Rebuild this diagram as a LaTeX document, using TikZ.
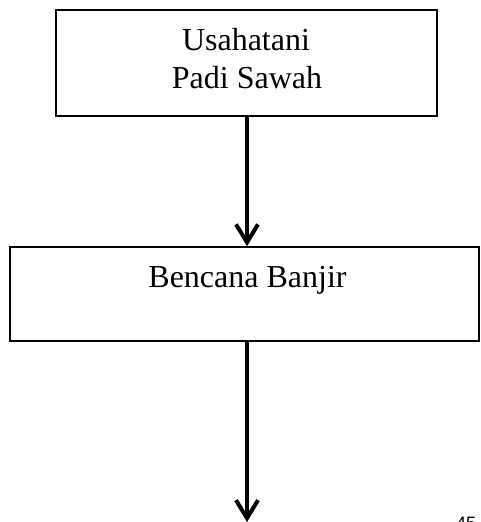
\documentclass[tikz,border=0pt]{standalone}
\usepackage{fontspec}
\setmainfont{Liberation Serif}
\newfontfamily\arialf{Liberation Sans}
\usetikzlibrary{arrows.meta}
\begin{document}
\begin{tikzpicture}[x=1pt,y=-1pt,
  boxst/.style={draw=black, line width=1.6pt, rectangle, inner sep=0pt, fill=white},
  txt/.style={inner sep=0pt, anchor=base, font=\fontsize{32}{38}\selectfont},
  arr/.style={line width=4pt, -{Straight Barb[length=18pt,width=22pt,line width=4pt]}}]
\useasboundingbox (0,0) rectangle (480,522);
\node[boxst, minimum width=381pt, minimum height=106pt] (top) at (246.5,63) {};
\node[txt] (t1) at (246,50) {Usahatani};
\node[txt] (t2) at (247,88) {Padi Sawah};
\node[boxst, minimum width=469pt, minimum height=94pt] (bot) at (244.5,294) {};
\node[txt] (t3) at (247.5,287) {Bencana Banjir};
\coordinate (end) at (247,522);
\draw[arr] (top.south -| end) -- (bot.north -| end);
\draw[arr] (bot.south -| end) -- (end);
\node[inner sep=0pt, anchor=north west, font=\arialf\fontsize{18}{20}\selectfont] (pg) at (456,517) {45};
\end{tikzpicture}
\end{document}
